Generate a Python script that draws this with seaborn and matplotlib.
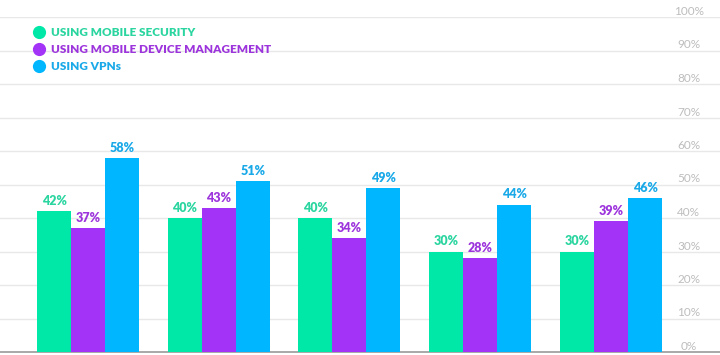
import matplotlib
matplotlib.use("Agg")
import matplotlib.pyplot as plt
from matplotlib.lines import Line2D
import pandas as pd
import seaborn as sns

# data
groups = ["G1", "G2", "G3", "G4", "G5"]
series = ["USING MOBILE SECURITY", "USING MOBILE DEVICE MANAGEMENT", "USING VPNs"]
mobile_security = [42, 40, 40, 30, 30]
device_mgmt = [37, 43, 34, 28, 39]
vpns = [58, 51, 49, 44, 46]
yticks = [0, 10, 20, 30, 40, 50, 60, 70, 80, 90, 100]

bar_colors = ["#00e8a8", "#a333f7", "#00b6fe"]
text_colors = ["#2bd5a0", "#9d35dc", "#1aa9e8"]

df = pd.DataFrame({"group": groups * 3,
                   "series": [s for s in series for _ in groups],
                   "value": mobile_security + device_mgmt + vpns})

sns.set_style("white")
plt.rcParams["font.family"] = ["Lato", "DejaVu Sans"]

fig = plt.figure(figsize=(7.2, 3.55), dpi=100)
ax = fig.add_axes([0, 3 / 355, 1, 1 - 20 / 355])

sns.barplot(data=df, x="group", y="value", hue="series", hue_order=series,
            palette=bar_colors, width=0.78, saturation=1, ax=ax,
            edgecolor="none", legend=False, zorder=3)

# value labels
for cont, col in zip(ax.containers, text_colors):
    ax.bar_label(cont, labels=[f"{v:.0f}%" for v in cont.datavalues],
                 padding=3, color=col, fontsize=9, fontweight="heavy")

ax.set_ylim(0, 100)
ax.set_xlim(-0.673, 4.834)
ax.set_yticks(yticks)
ax.set_yticklabels([f"{t}%" for t in yticks])
ax.yaxis.tick_right()
ax.tick_params(axis="y", length=0, pad=-22.5, labelsize=8.5, labelcolor="#bdbdbd")
for lbl in ax.get_yticklabels():
    lbl.set_ha("center")
    lbl.set_va("bottom")
ax.tick_params(axis="x", length=0, labelbottom=False)
ax.set_xlabel("")
ax.set_ylabel("")
ax.grid(axis="y", color="#e8e8e8", linewidth=1, zorder=0)
ax.set_axisbelow(True)
for s in ["top", "left", "right"]:
    ax.spines[s].set_visible(False)
ax.spines["bottom"].set_color("#9a9a9a")
ax.spines["bottom"].set_linewidth(1.2)

# legend with round markers
handles = [Line2D([], [], marker="o", linestyle="none", markersize=9.5,
                  markerfacecolor=c, markeredgecolor="none") for c in bar_colors]
leg = ax.legend(handles, series, loc="upper left", bbox_to_anchor=(0.040, 0.985),
                frameon=False, handletextpad=0.45, labelspacing=0.52,
                handlelength=1.0, borderaxespad=0,
                prop={"weight": "heavy", "size": 8.5})
for t, c in zip(leg.get_texts(), text_colors):
    t.set_color(c)

fig.savefig("out.png", dpi=100)
